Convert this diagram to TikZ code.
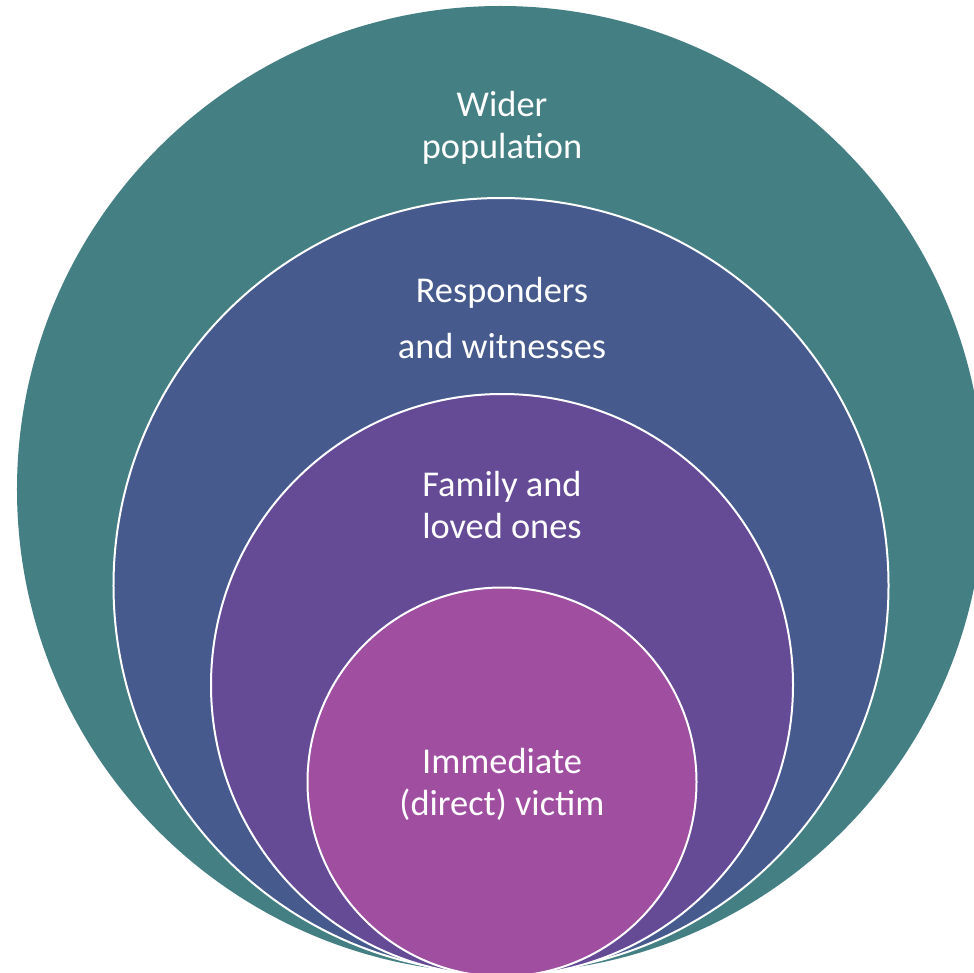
\documentclass[tikz,border=0pt]{standalone}
\usepackage{fontspec}
\setmainfont{Carlito}
\definecolor{widerteal}{RGB}{67,127,131}
\definecolor{responderblue}{RGB}{70,90,142}
\definecolor{familypurple}{RGB}{101,74,150}
\definecolor{victimpink}{RGB}{160,78,160}
\tikzset{
  ring/.style={draw=white, line width=2bp},
  lbl/.style={text=white, align=center, inner sep=0pt,
    font=\fontsize{36.5}{42}\selectfont}
}

\begin{document}
\begin{tikzpicture}[x=1bp,y=-1bp]
\useasboundingbox (0,0) rectangle (974,973);
\clip (0,0) rectangle (974,973);
%
\fill[widerteal] (500.5,489.5) circle (483.5bp);
\filldraw[ring, fill=responderblue] (501,585.5) circle (387.5bp);
\filldraw[ring, fill=familypurple] (502,685) circle (291bp);
\filldraw[ring, fill=victimpink] (502,782) circle (194.5bp);
%
\node[lbl] (wider) at (502,128) {Wider\\population};
\node[lbl, font=\fontsize{36.5}{56}\selectfont] (responders) at (502,318) {Responders\\and witnesses};
\node[lbl] (family) at (502,505) {Family and\\loved ones};
\node[lbl] (victim) at (502,784) {Immediate\\(direct) victim};
\end{tikzpicture}
\end{document}
